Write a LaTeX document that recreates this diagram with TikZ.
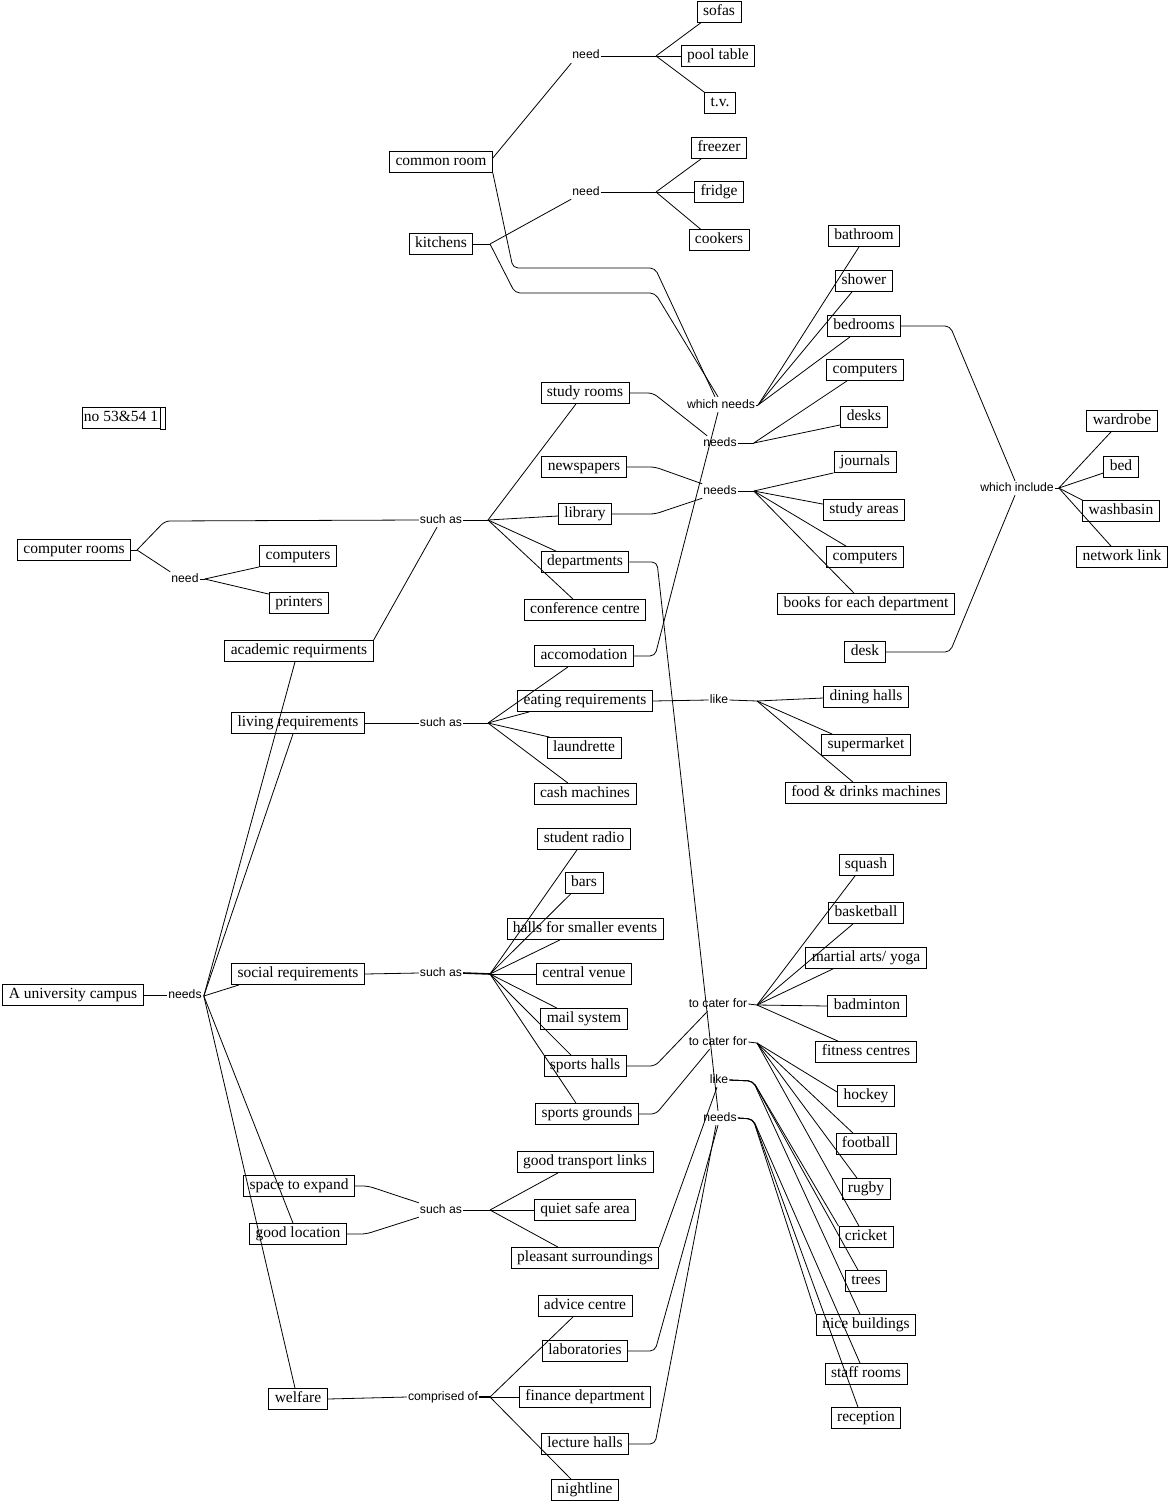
\documentclass[tikz,border=0pt]{standalone}
\usepackage{fontspec}
\setmainfont{Liberation Serif}
\newfontfamily\linkfont{Liberation Sans}
\usetikzlibrary{calc}
\begin{document}
\begin{tikzpicture}[x=1pt,y=-1pt,
  concept/.style={draw, line width=0.8pt, font=\fontsize{15.5}{18}\selectfont, inner xsep=6pt, inner ysep=3pt, text height=11pt, text depth=4pt},
  link/.style={font=\linkfont\fontsize{12.2}{14}\selectfont, inner sep=1pt, text height=9pt, text depth=3pt},
  conn/.style={line width=0.8pt, rounded corners=5pt},
]
\useasboundingbox (0,0) rectangle (1170,1504);

% ---------- concepts ----------
\node[concept] (sofas) at (719,12) {sofas};
\node[concept] (pool) at (718,56) {pool table};
\node[concept] (tv) at (720,103) {t.v.};
\node[concept] (freezer) at (719,148) {freezer};
\node[concept] (fridge) at (719,192) {fridge};
\node[concept] (cookers) at (719,240) {cookers};
\node[concept] (common) at (441,162) {common room};
\node[concept] (kitchens) at (441,244) {kitchens};
\node[concept] (bathroom) at (864,236) {bathroom};
\node[concept] (shower) at (864,281) {shower};
\node[concept] (bedrooms) at (864,326) {bedrooms};
\node[concept] (compA) at (865,370) {computers};
\node[concept] (desks) at (864,417) {desks};
\node[concept] (journals) at (865,462) {journals};
\node[concept] (studyareas) at (864,510) {study areas};
\node[concept] (compB) at (865,557) {computers};
\node[concept] (books) at (866,604) {books for each department};
\node[concept] (desk) at (865,652) {desk};
\node[concept] (wardrobe) at (1122,421) {wardrobe};
\node[concept] (bed) at (1121,467) {bed};
\node[concept] (washbasin) at (1121,511) {washbasin};
\node[concept] (network) at (1122,557) {network link};
\node[concept, inner xsep=2pt] (nobox) at (121,418) {no 53\&54 1};
\draw[line width=0.8pt] (nobox.north east) rectangle ($(nobox.south east)+(5,0)$);
\node[concept] (comprooms) at (74,550) {computer rooms};
\node[concept] (compC) at (298,556) {computers};
\node[concept] (printers) at (299,603) {printers};
\node[concept] (studyrooms) at (585,393) {study rooms};
\node[concept] (newspapers) at (584,467) {newspapers};
\node[concept] (library) at (585,514) {library};
\node[concept] (departments) at (585,562) {departments};
\node[concept] (conference) at (585,610) {conference centre};
\node[concept] (accom) at (584,656) {accomodation};
\node[concept] (academic) at (299,651) {academic requirments};
\node[concept] (living) at (298,723) {living requirements};
\node[concept] (eating) at (585,701) {eating requirements};
\node[concept] (laundrette) at (584,748) {laundrette};
\node[concept] (cash) at (585,794) {cash machines};
\node[concept] (dining) at (866,697) {dining halls};
\node[concept] (supermarket) at (866,745) {supermarket};
\node[concept] (food) at (866,793) {food \& drinks machines};
\node[concept] (radio) at (584,839) {student radio};
\node[concept] (bars) at (584,883) {bars};
\node[concept] (halls) at (585,929) {halls for smaller events};
\node[concept] (venue) at (584,974) {central venue};
\node[concept] (mail) at (584,1019) {mail system};
\node[concept] (sportshalls) at (585,1066) {sports halls};
\node[concept] (sportsgrounds) at (587,1114) {sports grounds};
\node[concept] (campus) at (73,995) {A university campus};
\node[concept] (social) at (298,974) {social requirements};
\node[concept] (expand) at (299,1186) {space to expand};
\node[concept] (location) at (298,1234) {good location};
\node[concept] (welfare) at (298,1399) {welfare};
\node[concept] (transport) at (585,1162) {good transport links};
\node[concept] (quiet) at (585,1210) {quiet safe area};
\node[concept] (pleasant) at (585,1258) {pleasant surroundings};
\node[concept] (advice) at (585,1306) {advice centre};
\node[concept] (labs) at (585,1351) {laboratories};
\node[concept] (finance) at (585,1397) {finance department};
\node[concept] (lecture) at (585,1444) {lecture halls};
\node[concept] (nightline) at (585,1490) {nightline};
\node[concept] (squash) at (866,865) {squash};
\node[concept] (basketball) at (866,913) {basketball};
\node[concept] (martial) at (866,958) {martial arts/ yoga};
\node[concept] (badminton) at (867,1006) {badminton};
\node[concept] (fitness) at (866,1052) {fitness centres};
\node[concept] (hockey) at (866,1096) {hockey};
\node[concept] (football) at (866,1144) {football};
\node[concept] (rugby) at (866,1189) {rugby};
\node[concept] (cricket) at (866,1237) {cricket};
\node[concept] (trees) at (866,1281) {trees};
\node[concept] (nice) at (866,1325) {nice buildings};
\node[concept] (staff) at (866,1374) {staff rooms};
\node[concept] (reception) at (866,1418) {reception};

% ---------- linking phrases ----------
\node[link] (needA) at (586,56) {need};
\node[link] (needB) at (586,192) {need};
\node[link] (whichneeds) at (721,405) {which needs};
\node[link] (needsC) at (720,443) {needs};
\node[link] (needsD) at (720,491) {needs};
\node[link] (include) at (1017,488) {which include};
\node[link] (suchA) at (441,520) {such as};
\node[link] (needE) at (185,579) {need};
\node[link] (suchB) at (441,723) {such as};
\node[link] (likeA) at (719,700) {like};
\node[link] (suchC) at (441,973) {such as};
\node[link] (needsMain) at (185,995) {needs};
\node[link] (caterA) at (718,1004) {to cater for};
\node[link] (caterB) at (718,1042) {to cater for};
\node[link] (likeB) at (719,1080) {like};
\node[link] (needsF) at (720,1118) {needs};
\node[link] (suchD) at (441,1210) {such as};
\node[link] (comprised) at (443,1397) {comprised of};

% ---------- fan points ----------
\coordinate (fA) at (656,56);
\coordinate (fB) at (656,192);
\coordinate (fKit) at (490,244);
\coordinate (fWN) at ($(whichneeds.east)+(2,0)$);
\coordinate (fC) at ($(needsC.east)+(16,0)$);
\coordinate (fD) at ($(needsD.east)+(16,0)$);
\coordinate (fInc) at ($(include.east)+(4,0)$);
\coordinate (fCR) at (137,550);
\coordinate (fNeedE) at ($(needE.east)+(5,0)$);
\coordinate (fSuchA) at (488,520);
\coordinate (fSuchB) at (488,723);
\coordinate (fLikeA) at (757,701);
\coordinate (fSuchC) at (490,974);
\coordinate (fMain) at ($(needsMain.east)+(1,1)$);
\coordinate (fCatA) at (757,1005);
\coordinate (fCatB) at (757,1043);
\coordinate (fLikeB) at (753,1081);
\coordinate (fNeedsF) at (753,1119);
\coordinate (fSuchD) at (490,1210);
\coordinate (fComp) at (490,1397);

% ---------- top: common room / kitchens ----------
\draw[conn] ($(common.east)+(0,-4)$) -- (needA.south west);
\draw[conn] (needA.east) -- (fA);
\draw[conn] (fA) -- ($(sofas.south west)+(4,0)$);
\draw[conn] (fA) -- (pool.west);
\draw[conn] (fA) -- (tv.north west);
\draw[conn] (kitchens.east) -- (fKit);
\draw[conn] (fKit) -- (needB.south west);
\draw[conn] (needB.east) -- (fB);
\draw[conn] (fB) -- ($(freezer.south west)+(10,0)$);
\draw[conn] (fB) -- (fridge.west);
\draw[conn] (fB) -- ($(cookers.north west)+(12,0)$);
\draw[conn] (common.south east) -- (513,268) -- (655,268) -- ($(whichneeds.north)+(-6,-1)$);
\draw[conn] (fKit) -- (515,293) -- (655,293) -- ($(whichneeds.north)+(-3,-1)$);

% ---------- which needs ----------
\draw[conn] (whichneeds.east) -- (fWN);
\draw[conn] (fWN) -- ($(bathroom.south)+(-5,0)$);
\draw[conn] (fWN) -- ($(shower.south)+(-12,0)$);
\draw[conn] (fWN) -- ($(bedrooms.south)+(-14,0)$);
\draw[conn] (accom.east) -- (655,656) -- ($(whichneeds.south)+(-3,0)$);

% ---------- needs (study rooms) ----------
\draw[conn] (studyrooms.east) -- (653,393) -- ($(needsC.north west)+(5,0)$);
\draw[conn] (needsC.east) -- (fC);
\draw[conn] (fC) -- ($(compA.south)+(-18,0)$);
\draw[conn] (fC) -- ($(desks.south west)+(0,-3)$);

% ---------- needs (library) ----------
\draw[conn] (newspapers.east) -- (655,467) -- (needsD.north west);
\draw[conn] (library.east) -- (655,514) -- (needsD.south west);
\draw[conn] (needsD.east) -- (fD);
\draw[conn] (fD) -- (journals.south west);
\draw[conn] (fD) -- ($(studyareas.north west)+(0,5)$);
\draw[conn] (fD) -- ($(compB.north)+(-19,0)$);
\draw[conn] (fD) -- ($(books.north)+(-12,0)$);

% ---------- which include ----------
\draw[conn] (bedrooms.east) -- (950,326) -- ($(include.north)+(-2,0)$);
\draw[conn] (desk.east) -- (950,652) -- ($(include.south)+(-2,0)$);
\draw[conn] (include.east) -- (fInc);
\draw[conn] (fInc) -- ($(wardrobe.south)+(-11,0)$);
\draw[conn] (fInc) -- ($(bed.west)+(0,6)$);
\draw[conn] (fInc) -- (washbasin.north west);
\draw[conn] (fInc) -- ($(network.north)+(-11,0)$);

% ---------- computer rooms ----------
\draw[conn] (comprooms.east) -- (fCR);
\draw[conn] (fCR) -- (165,521) -- (suchA.west);
\draw[conn] (fCR) -- (needE.north west);
\draw[conn] (needE.east) -- (fNeedE);
\draw[conn] (fNeedE) -- (compC.south west);
\draw[conn] (fNeedE) -- ($(printers.north west)+(0,2)$);

% ---------- academic ----------
\draw[conn] (academic.north east) -- ($(suchA.south)+(-4,0)$);
\draw[conn] (suchA.east) -- (fSuchA);
\draw[conn] (fSuchA) -- ($(studyrooms.south)+(-9,0)$);
\draw[conn] (fSuchA) -- ($(library.west)+(0,2)$);
\draw[conn] (fSuchA) -- ($(departments.north)+(-29,0)$);
\draw[conn] (fSuchA) -- ($(conference.north)+(-12,0)$);

% ---------- living ----------
\draw[conn] (living.east) -- (suchB.west);
\draw[conn] (suchB.east) -- (fSuchB);
\draw[conn] (fSuchB) -- ($(accom.south)+(-16,0)$);
\draw[conn] (fSuchB) -- ($(eating.south west)+(12,0)$);
\draw[conn] (fSuchB) -- ($(laundrette.north west)+(3,0)$);
\draw[conn] (fSuchB) -- ($(cash.north)+(-17,0)$);
\draw[conn] (eating.east) -- (likeA.west);
\draw[conn] (likeA.east) -- (fLikeA);
\draw[conn] (fLikeA) -- ($(dining.west)+(0,1)$);
\draw[conn] (fLikeA) -- ($(supermarket.north west)+(11,0)$);
\draw[conn] (fLikeA) -- ($(food.north)+(-13,0)$);

% ---------- social ----------
\draw[conn] (social.east) -- (suchC.west);
\draw[conn, line width=1.6pt] (suchC.east) -- (fSuchC);
\draw[conn] (fSuchC) -- ($(radio.south)+(-7,0)$);
\draw[conn] (fSuchC) -- ($(bars.south west)+(6,0)$);
\draw[conn] (fSuchC) -- ($(halls.south)+(-25,0)$);
\draw[conn] (fSuchC) -- (venue.west);
\draw[conn] (fSuchC) -- ($(mail.north)+(-27,0)$);
\draw[conn] (fSuchC) -- ($(sportshalls.north)+(-14,0)$);
\draw[conn] (fSuchC) -- ($(sportsgrounds.north)+(-11,0)$);
\draw[conn] (sportshalls.east) -- (655,1066) -- ($(caterA.south west)+(20,0)$);
\draw[conn] (sportsgrounds.east) -- (656,1114) -- ($(caterB.south west)+(22,0)$);
\draw[conn] (caterA.east) -- (fCatA);
\draw[conn] (fCatA) -- ($(squash.south)+(-11,0)$);
\draw[conn] (fCatA) -- ($(basketball.south)+(-13,0)$);
\draw[conn] (fCatA) -- ($(martial.south)+(-33,0)$);
\draw[conn] (fCatA) -- (badminton.west);
\draw[conn] (fCatA) -- ($(fitness.north)+(-28,0)$);
\draw[conn] (caterB.east) -- (fCatB);
\draw[conn] (fCatB) -- ($(hockey.north west)+(0,7)$);
\draw[conn] (fCatB) -- ($(football.north)+(-13,0)$);
\draw[conn] (fCatB) -- ($(rugby.north)+(-9,0)$);
\draw[conn] (fCatB) -- ($(cricket.north)+(-7,0)$);

% ---------- like (pleasant surroundings) ----------
\draw[conn] (pleasant.north east) -- ($(likeB.south)+(-2,0)$);
\draw[conn] (likeB.east) -- (fLikeB) -- (cricket.north west);
\draw[conn] (likeB.east) -- (fLikeB) -- ($(trees.north)+(-8,0)$);
\draw[conn] (likeB.east) -- (fLikeB) -- ($(nice.north)+(-6,0)$);

% ---------- needs (departments, labs, lecture halls) ----------
\draw[conn] (departments.east) -- (657,562) -- ($(needsF.north)+(-2,0)$);
\draw[conn] (labs.east) -- (655,1351) -- ($(needsF.south)+(-2,0)$);
\draw[conn] (lecture.east) -- (655,1444) -- ($(needsF.south)+(-4,0)$);
\draw[conn] (needsF.east) -- (fNeedsF) -- (nice.north west);
\draw[conn] (needsF.east) -- (fNeedsF) -- ($(staff.north)+(-6,0)$);
\draw[conn] (needsF.east) -- (fNeedsF) -- ($(reception.north)+(-8,0)$);

% ---------- main needs ----------
\draw[conn] (campus.east) -- (needsMain.west);
\draw[conn] (fMain) -- ($(academic.south)+(-4,0)$);
\draw[conn] (fMain) -- ($(living.south)+(-5,0)$);
\draw[conn] (fMain) -- ($(social.south west)+(8,0)$);
\draw[conn] (fMain) -- ($(location.north)+(-5,0)$);
\draw[conn] (fMain) -- ($(welfare.north)+(-3,0)$);

% ---------- space / location ----------
\draw[conn] (expand.east) -- (368,1186) -- (suchD.north west);
\draw[conn] (location.east) -- (366,1234) -- (suchD.south west);
\draw[conn] (suchD.east) -- (fSuchD);
\draw[conn] (fSuchD) -- ($(transport.south)+(-27,0)$);
\draw[conn] (fSuchD) -- (quiet.west);
\draw[conn] (fSuchD) -- ($(pleasant.north)+(-27,0)$);

% ---------- welfare ----------
\draw[conn] (welfare.east) -- (comprised.west);
\draw[conn, line width=1.6pt] (comprised.east) -- (fComp);
\draw[conn] (fComp) -- ($(advice.south)+(-12,0)$);
\draw[conn] (fComp) -- (finance.west);
\draw[conn] (fComp) -- ($(nightline.north)+(-14,0)$);
\end{tikzpicture}
\end{document}
